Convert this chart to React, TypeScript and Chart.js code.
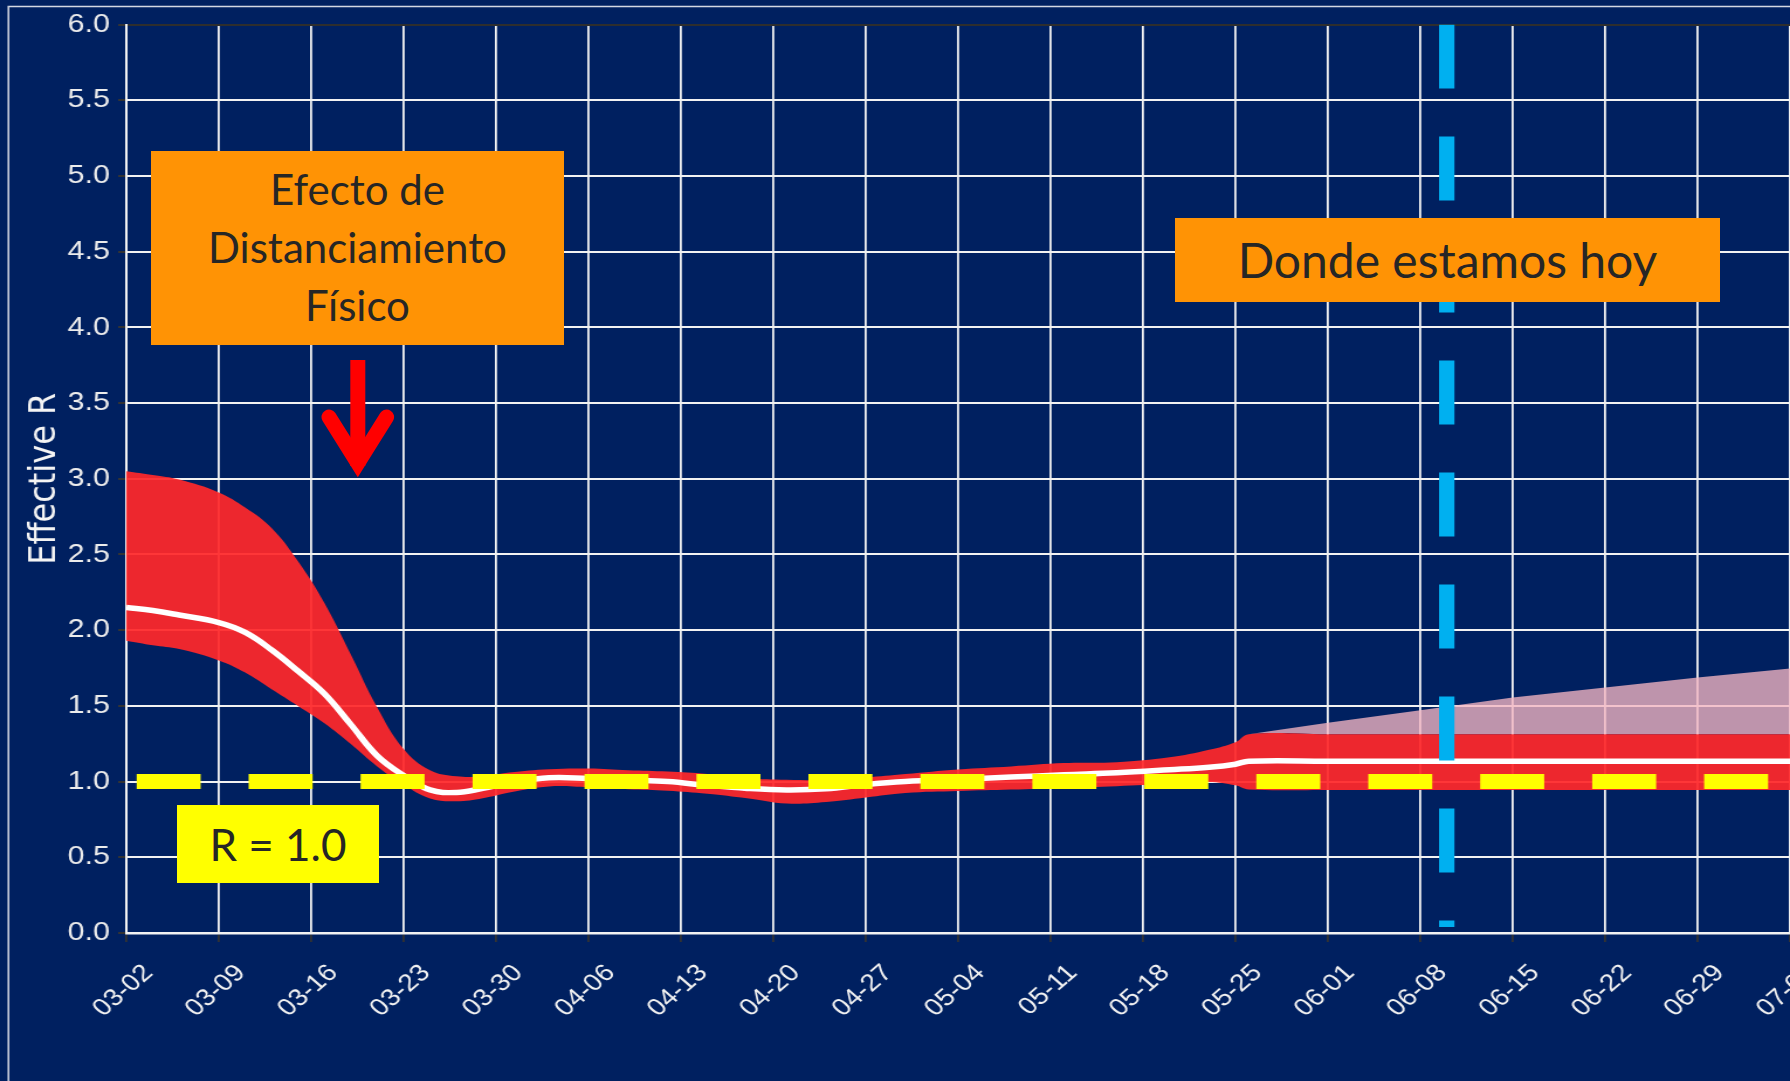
import React, { useEffect, useRef } from 'react';
import { Chart, registerables } from 'chart.js';

Chart.register(...registerables);

// ---------- data ----------
const tickLabels = [
  '03-02', '03-09', '03-16', '03-23', '03-30', '04-06', '04-13', '04-20', '04-27', '05-04',
  '05-11', '05-18', '05-25', '06-01', '06-08', '06-15', '06-22', '06-29', '07-06',
];

// days since 03-02
const days = [0, 2, 4, 7, 9, 11, 13, 15, 17, 19, 21, 23, 25, 27, 29, 32, 35, 38, 41, 44, 47, 50, 53, 56, 59, 63, 67, 71, 75, 79, 82, 84, 85, 91, 98, 105, 112, 119, 126];

const medianR = [2.15, 2.13, 2.1, 2.05, 1.985, 1.87, 1.73, 1.58, 1.377, 1.17, 1.04, 0.945, 0.928, 0.955, 0.99, 1.025, 1.02, 1.01, 1.0, 0.975, 0.955, 0.945, 0.952, 0.98, 1.0, 1.015, 1.03, 1.045, 1.058, 1.078, 1.095, 1.115, 1.135, 1.135, 1.135, 1.135, 1.135, 1.135, 1.135];

const upperR = [3.05, 3.025, 2.995, 2.91, 2.81, 2.675, 2.455, 2.18, 1.84, 1.49, 1.215, 1.075, 1.035, 1.035, 1.06, 1.082, 1.086, 1.075, 1.066, 1.05, 1.022, 1.012, 1.01, 1.027, 1.05, 1.08, 1.1, 1.122, 1.128, 1.16, 1.21, 1.26, 1.313, 1.313, 1.313, 1.313, 1.313, 1.313, 1.313];

const lowerR = [1.93, 1.9, 1.875, 1.8, 1.72, 1.61, 1.5, 1.385, 1.248, 1.1, 0.98, 0.888, 0.87, 0.89, 0.928, 0.968, 0.962, 0.95, 0.94, 0.92, 0.89, 0.855, 0.865, 0.895, 0.925, 0.938, 0.947, 0.96, 0.97, 0.985, 0.998, 0.975, 0.947, 0.945, 0.945, 0.945, 0.945, 0.945, 0.945];

const projDays = [85, 91, 98, 105, 112, 119, 126];
const projUpperR = [1.313, 1.388, 1.471, 1.555, 1.621, 1.687, 1.747];

const todayDay = 100; // 06-10
const thresholdR = 1.0;

// ---------- layout ----------
const DISPLAY_W = 1790;
const DISPLAY_H = 1081;
const STRETCH = 1.17; // the plot image is stretched horizontally
const W = Math.round(DISPLAY_W / STRETCH);
const H = DISPLAY_H;

const framePlugin = {
  id: 'frame',
  beforeDraw(chart: any) {
    const ctx = chart.ctx;
    ctx.save();
    ctx.strokeStyle = '#d4d8e2';
    ctx.lineWidth = 1.5;
    ctx.strokeRect(7.2, 6.5, 4000, 4000);
    ctx.restore();
  },
};

const pts = (xs: number[], ys: number[]) => xs.map((x, i) => ({ x, y: ys[i] }));

export default function App() {
  const ref = useRef<HTMLCanvasElement>(null);

  useEffect(() => {
    document.body.style.margin = '0';
    const canvas = ref.current!;
    const chart = new Chart(canvas, {
      type: 'line',
      data: {
        datasets: [
          {
            label: 'hoy',
            data: [{ x: todayDay, y: 6 }, { x: todayDay, y: 0.04 }],
            borderColor: '#00B0F0',
            borderWidth: 13.2,
            borderDash: [64, 48],
            borderCapStyle: 'butt',
            pointRadius: 0,
            fill: false,
            order: 0,
          },
          {
            label: 'R = 1.0',
            data: [{ x: 0, y: thresholdR }, { x: 126, y: thresholdR }],
            borderColor: '#FFFF00',
            borderWidth: 15,
            borderDash: [54.7, 41],
            borderDashOffset: 86.9,
            borderCapStyle: 'butt',
            pointRadius: 0,
            fill: false,
            order: 1,
          },
          {
            label: 'median',
            data: pts(days, medianR),
            borderColor: '#ffffff',
            borderWidth: 5.5,
            pointRadius: 0,
            tension: 0.4,
            fill: false,
            order: 2,
          },
          {
            label: 'upper',
            data: pts(days, upperR),
            borderColor: 'rgba(0,0,0,0)',
            borderWidth: 1,
            backgroundColor: 'rgba(255,40,42,0.93)',
            pointRadius: 0,
            tension: 0.4,
            fill: '+1',
            order: 3,
          },
          {
            label: 'lower',
            data: pts(days, lowerR),
            borderColor: 'rgba(0,0,0,0)',
            borderWidth: 1,
            pointRadius: 0,
            tension: 0.4,
            fill: false,
            order: 4,
          },
          {
            label: 'proj',
            data: pts(projDays, projUpperR),
            borderColor: 'rgba(0,0,0,0)',
            borderWidth: 1,
            backgroundColor: 'rgba(244,181,193,0.78)',
            pointRadius: 0,
            tension: 0,
            fill: 3,
            order: 5,
          },
        ],
      },
      options: {
        responsive: false,
        animation: false,
        devicePixelRatio: 1,
        events: [],
        layout: { padding: { top: 24.5, left: 0, right: 0, bottom: 0 } },
        plugins: {
          legend: { display: false },
          tooltip: { enabled: false },
        },
        scales: {
          x: {
            type: 'linear',
            min: 0,
            max: 126,
            ticks: {
              stepSize: 7,
              autoSkip: false,
              minRotation: 45,
              maxRotation: 45,
              color: '#f2f2f2',
              padding: 17,
              labelOffset: 19,
              font: { family: 'Liberation Sans', size: 24 },
              callback: (v: any) => tickLabels[Math.round(Number(v) / 7)] ?? '',
            },
            grid: { color: '#f2f2f2', lineWidth: 1.8, tickColor: '#333333', tickLength: 9 },
            border: { display: true, color: '#f2f2f2', width: 2.5 },
            afterFit: (s: any) => {
              s.height = 148;
              s.paddingLeft = 0;
              s.paddingRight = 0;
            },
          },
          y: {
            min: 0,
            max: 6,
            ticks: {
              stepSize: 0.5,
              color: '#ececec',
              padding: 7,
              font: { family: 'Liberation Sans', size: 26 },
              callback: (v: any) => Number(v).toFixed(1),
            },
            grid: {
              color: (c: any) => (c.tick && c.tick.value === 6 ? '#2e2e2e' : '#f2f2f2'),
              lineWidth: 2,
              tickColor: '#333333',
              tickLength: 7,
            },
            border: { display: true, color: '#f2f2f2', width: 2 },
            title: {
              display: true,
              text: 'Effective R',
              color: '#f4f4f4',
              font: { family: 'DejaVu Sans', size: 32 },
              padding: { top: 19, bottom: 0 },
            },
            afterFit: (s: any) => {
              s.width = 108;
              s.paddingTop = 0;
              s.paddingBottom = 0;
            },
          },
        },
      },
      plugins: [framePlugin],
    } as any);
    return () => chart.destroy();
  }, []);

  const boxText: React.CSSProperties = {
    position: 'absolute',
    boxSizing: 'border-box',
    textAlign: 'center',
    color: '#262626',
    fontFamily: 'Lato, "Open Sans", sans-serif',
    whiteSpace: 'nowrap',
  };

  return (
    <div
      style={{
        position: 'fixed',
        left: 0,
        top: 0,
        width: DISPLAY_W,
        height: DISPLAY_H,
        overflow: 'hidden',
        background: '#002060',
      }}
    >
      <canvas
        ref={ref}
        width={W}
        height={H}
        style={{ position: 'absolute', left: 0, top: 0, width: DISPLAY_W + 'px', height: DISPLAY_H + 'px' }}
      />
      <div
        style={{
          ...boxText,
          left: 151,
          top: 151,
          width: 413,
          height: 194,
          background: '#FF9305',
          fontSize: 42,
          lineHeight: '58px',
          paddingTop: 9,
        }}
      >
        Efecto de
        <br />
        Distanciamiento
        <br />
        Físico
      </div>
      <div
        style={{
          ...boxText,
          left: 1175,
          top: 218,
          width: 545,
          height: 84,
          background: '#FF9305',
          fontSize: 48,
          lineHeight: '84px',
        }}
      >
        Donde estamos hoy
      </div>
      <div
        style={{
          ...boxText,
          left: 177,
          top: 805,
          width: 202,
          height: 78,
          background: '#FFFF00',
          fontSize: 44,
          lineHeight: '78px',
        }}
      >
        R = 1.0
      </div>
      <svg
        width={DISPLAY_W}
        height={DISPLAY_H}
        style={{ position: 'absolute', left: 0, top: 0, pointerEvents: 'none' }}
      >
        <line x1={357.8} y1={360} x2={357.8} y2={466} stroke="#FF0000" strokeWidth={15} />
        <polyline
          points="329,417 357.8,463 386.6,417"
          fill="none"
          stroke="#FF0000"
          strokeWidth={15}
          strokeLinecap="round"
          strokeLinejoin="miter"
        />
      </svg>
    </div>
  );
}
